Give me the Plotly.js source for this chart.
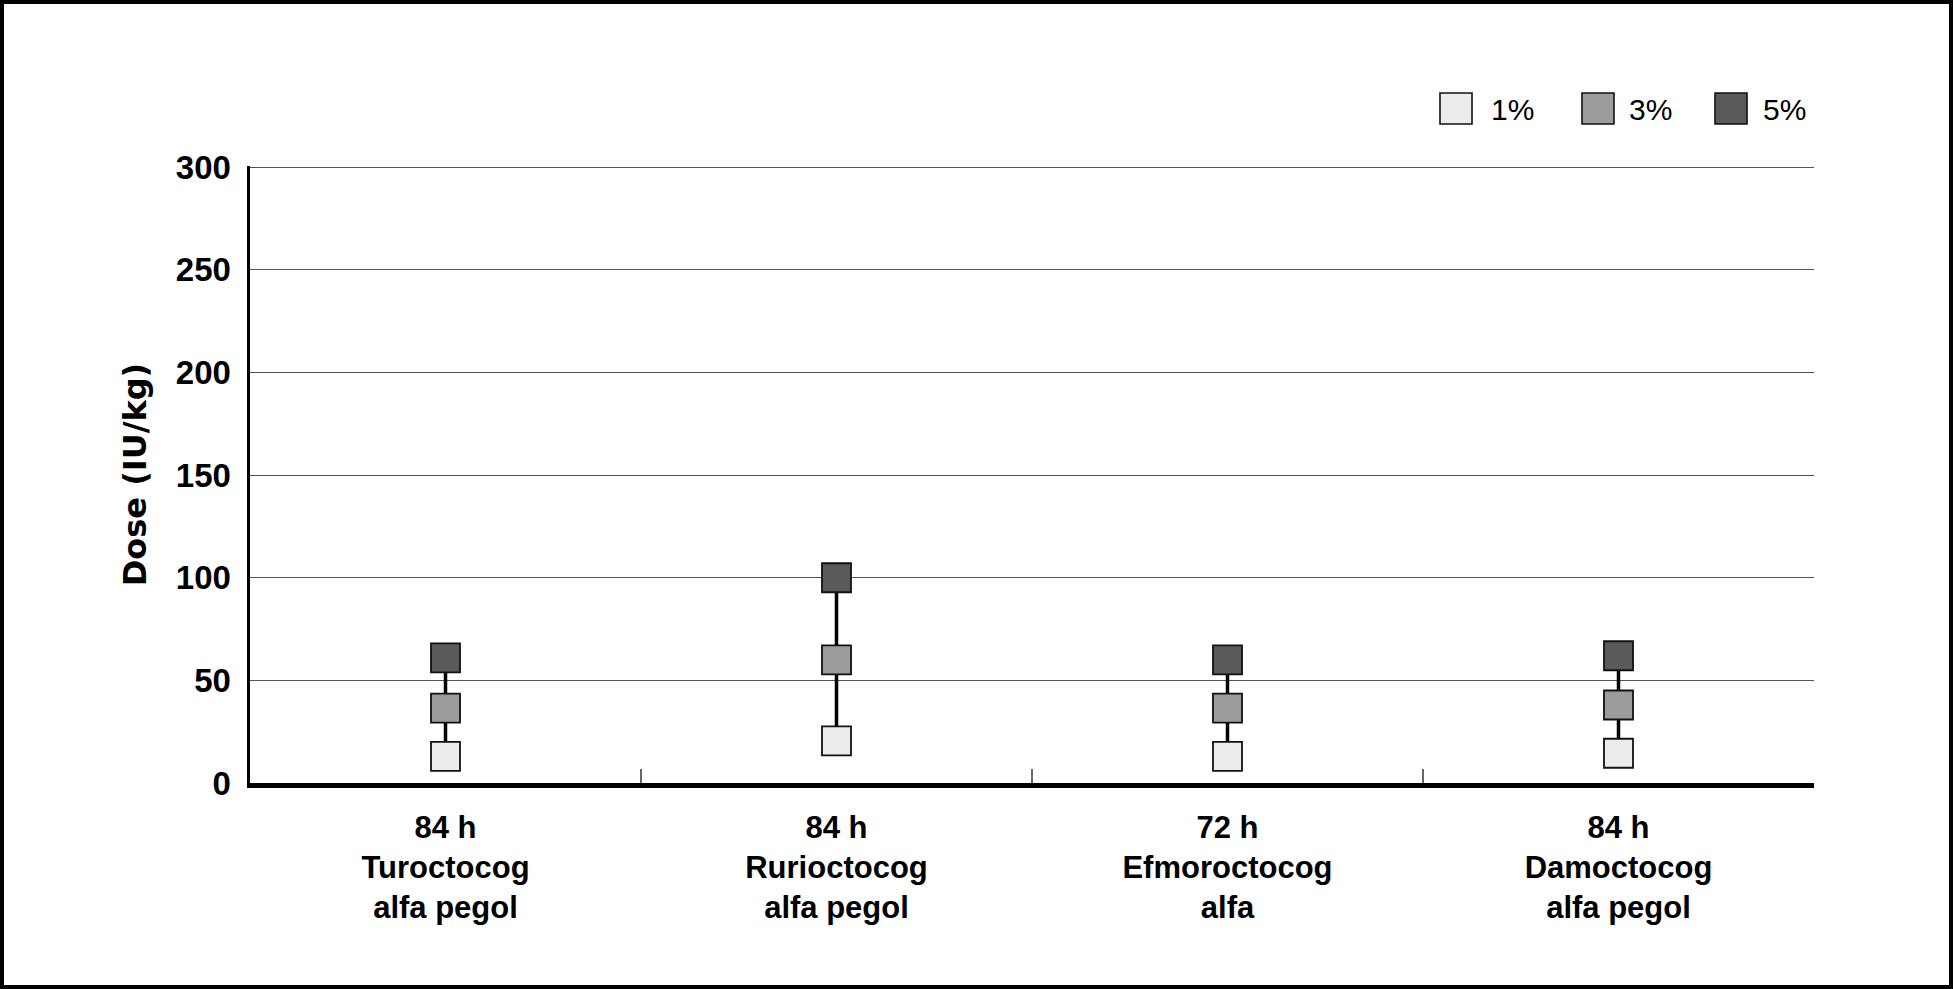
<!DOCTYPE html>
<html><head><meta charset="utf-8">
<script src="https://cdn.plot.ly/plotly-3.0.1.min.js"></script>
<style>
html,body{margin:0;padding:0;background:#fff;}
#wrap{position:relative;width:1953px;height:989px;}
#chart{width:1953px;height:989px;}
#frame{position:absolute;left:0;top:0;width:1953px;height:989px;box-sizing:border-box;border:4px solid #000;pointer-events:none;}
</style>
</head><body><div id="wrap"><div id="chart"></div><div id="frame"></div></div>
<script>
// ---- data ----
const hours = ['84 h', '84 h', '72 h', '84 h'];
const products = ['Turoctocog<br>alfa pegol', 'Rurioctocog<br>alfa pegol', 'Efmoroctocog<br>alfa', 'Damoctocog<br>alfa pegol'];
const seriesNames = ['1%', '3%', '5%'];
const dose1 = [13, 20.5, 13, 14.5];
const dose3 = [36.5, 60, 36.5, 38];
const dose5 = [61, 100, 60, 62];
const yTicks = [0, 50, 100, 150, 200, 250, 300];

// ---- styling ----
const W = 1953, H = 989;
const M = {l: 250, r: 139, t: 166, b: 206};
const pw = W - M.l - M.r, ph = H - M.t - M.b;
const px = x => (x - M.l) / pw;
const py = y => 1 - (y - M.t) / ph;
const colors = ['#ececec', '#9c9c9c', '#5a5a5a'];
const fontFam = 'Liberation Sans, Arial, Helvetica, sans-serif';

const categories = hours.map((h, i) => h + '<br>' + products[i]);
const seriesVals = [dose1, dose3, dose5];

// connector lines (from 1% to 5% in each category)
const lx = [], ly = [];
categories.forEach((c, i) => {
  lx.push(c, c, null);
  ly.push(dose1[i], dose5[i], null);
});

const traces = [{
  x: lx, y: ly, type: 'scatter', mode: 'lines',
  line: {color: '#000', width: 3.5}, connectgaps: false,
  hoverinfo: 'skip', showlegend: false
}];
seriesVals.forEach((vals, k) => {
  traces.push({
    x: categories, y: vals, type: 'scatter', mode: 'markers', name: seriesNames[k],
    marker: {symbol: 'square', size: 29, color: colors[k], line: {color: '#111', width: 1.8}},
    cliponaxis: false, showlegend: false
  });
});

// custom legend (large squares)
const legBoxX = [1440, 1582, 1715];
const legTextX = [1489, 1627, 1761];
const shapes = [], annotations = [];
seriesNames.forEach((n, k) => {
  shapes.push({
    type: 'rect', xref: 'paper', yref: 'paper',
    x0: px(legBoxX[k]), x1: px(legBoxX[k] + 32), y0: py(124), y1: py(93),
    fillcolor: colors[k], line: {color: '#111', width: 1.6}
  });
  annotations.push({
    xref: 'paper', yref: 'paper', x: px(legTextX[k]), y: py(109),
    xanchor: 'left', yanchor: 'middle', showarrow: false, text: n,
    font: {family: fontFam, size: 30, color: '#000'}
  });
});

const yMax = yTicks[yTicks.length - 1];

const layout = {
  width: W, height: H,
  margin: M,
  paper_bgcolor: '#fff', plot_bgcolor: '#fff',
  showlegend: false,
  xaxis: {
    type: 'category', range: [-0.5, categories.length - 0.5], autorange: false,
    showline: true, linecolor: '#000', linewidth: 4.5,
    ticks: 'inside', tickson: 'boundaries', ticklen: 14, tickcolor: '#666', tickwidth: 1.5,
    showgrid: false, zeroline: false,
    tickfont: {family: fontFam, size: 31, color: '#000', weight: 'bold'},
    ticklabelstandoff: 13
  },
  yaxis: {
    range: [0, yMax + 0.6], autorange: false, tickvals: yTicks, ticktext: yTicks.map(String),
    showline: true, linecolor: '#000', linewidth: 3.5,
    showgrid: true, gridcolor: '#555', gridwidth: 1.2, zeroline: false,
    ticks: '', ticklabelstandoff: 9,
    tickfont: {family: fontFam, size: 33, color: '#000', weight: 'bold'},
    title: {text: 'Dose (IU/kg)', standoff: 20,
      font: {family: 'DejaVu Sans, sans-serif', size: 32, color: '#000', weight: 'bold'}}
  },
  shapes: shapes,
  annotations: annotations
};

Plotly.newPlot('chart', traces, layout, {displayModeBar: false, staticPlot: true});
</script>
</body></html>
